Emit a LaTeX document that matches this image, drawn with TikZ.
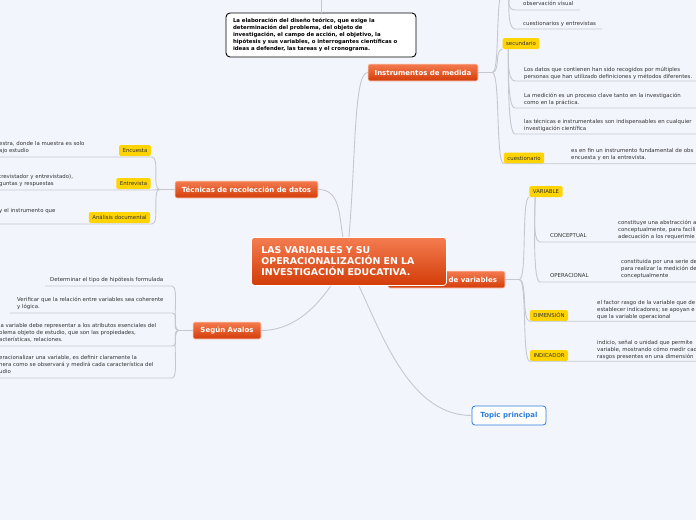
\documentclass[tikz,border=0pt]{standalone}
\usepackage{fontspec}
\setmainfont{DejaVu Sans}
\definecolor{Bgcol}{HTML}{F3F5FC}
\definecolor{Topcol}{HTML}{F47C50}
\definecolor{Botcol}{HTML}{D23C08}
\definecolor{Tagcol}{HTML}{FFD400}
\definecolor{Linkcol}{HTML}{C6C8D0}
\definecolor{Textcol}{HTML}{333333}
\definecolor{Bluecol}{HTML}{2C7BD8}
\usetikzlibrary{calc, positioning}
\tikzset{
    font=\fontsize{5.4}{7}\selectfont,
    central/.style={rounded corners=3pt, top color=Topcol, bottom color=Botcol, draw=white, line width=0.8pt,
        text=white, font=\fontsize{9.4}{11}\selectfont\bfseries, align=left, text width=175pt, inner xsep=10pt},
    maintopic/.style={rounded corners=2pt, top color=Topcol, bottom color=Botcol, draw=white!70!Topcol,
        line width=0.6pt, text=white, font=\fontsize{7}{9}\selectfont\bfseries, minimum height=17pt, inner xsep=6pt},
    topicbox/.style={rounded corners=3pt, fill=white, draw=Bluecol, line width=0.8pt, text=Bluecol,
        font=\fontsize{7}{9}\selectfont\bfseries, minimum height=19pt, minimum width=74pt},
    goalbox/.style={rounded corners=4pt, fill=white, draw=black, line width=0.9pt, font=\fontsize{5.4}{7.2}\selectfont\bfseries,
        align=left, text width=176pt, inner xsep=7pt, minimum height=44pt},
    tag/.style={rounded corners=1.5pt, fill=Tagcol, text=Textcol, minimum height=11pt, inner xsep=3.5pt, inner ysep=0pt},
    leaf/.style={text=Textcol, align=left, anchor=north west, inner sep=0pt},
    link/.style={draw=Linkcol, line width=0.9pt},
}

\begin{document}
\begin{tikzpicture}[x=1pt, y=1pt]
    \useasboundingbox (0,0) rectangle (696,-520);
    \fill[Bgcol] (0,0) rectangle (696,-520);
    \clip (0,0) rectangle (696,-520);

    % Main topics
    \node[maintopic, text width=101pt, align=right, inner xsep=8pt] (opvar) at (446.5,-279.5) {de variables};
    \node[central, anchor=north west, minimum height=48pt] (center) at (251,-237)
        {LAS VARIABLES Y SU\\OPERACIONALIZACIÓN EN LA\\INVESTIGACIÓN EDUCATIVA.};
    \node[maintopic, minimum width=110pt] (instr) at (423,-72.5) {Instrumentos de medida};
    \node[maintopic, minimum width=143pt] (tec) at (246.5,-189.5) {Técnicas de recolección de datos};
    \node[maintopic, minimum width=68pt] (seg) at (227,-330.5) {Según Avalos};
    \node[topicbox] (topic) at (509,-415.5) {Topic principal};
    \node[goalbox] (goal) at (321,-35) {La elaboración del diseño teórico, que exige la\\determinación del problema, del objeto de\\investigación, el campo de acción, el objetivo, la\\hipótesis y sus variables, o interrogantes científicas o\\ideas a defender, las tareas y el cronograma.};
    \coordinate (goaltop) at (321,5);
    \draw[link] (goal.north) -- (goaltop);

    % Links from the central topic
    \draw[link] (center.north) to[out=85, in=180, out distance=80pt, in distance=14pt] (instr.west);
    \draw[link] (tec.east) to[out=0, in=100, distance=22pt] ($(center.north)+(-6,0)$);
    \draw[link] (seg.east) to[out=0, in=235, distance=30pt] ($(center.south)+(-18,0)$);
    \draw[link] ($(center.south)+(10,0)$) to[out=-65, in=180, distance=60pt] (topic.west);

    % Instrumentos de medida
    \coordinate (ib) at ($(instr.east)+(14,0)$);
    \coordinate (prim) at (503,8);
    \coordinate (primfoot) at (509,8);
    \draw[link] (instr.east) -- (ib);
    \draw[link] (ib) to[out=0, in=180, distance=8pt] (prim);
    \node[tag] (sec) at (521,-43.5) {secundario};
    \node[tag] (cues) at (524,-158) {cuestionario};
    \draw[link] (ib) to[out=0, in=180, distance=8pt] (sec.south west);
    \draw[link] (ib) to[out=0, in=180, distance=8pt] (cues.south west) -- ++(200,0);

    \node[leaf] (obs) at (523,-1) {observación visual};
    \node[leaf] (cuent) at (523,-21) {cuestionarios y entrevistas};
    \coordinate (obsU) at (515,-10);
    \coordinate (cuentU) at (515,-29);
    \draw[link] (primfoot) to[out=-90, in=180, distance=8pt] (obsU) -- ++(65,0);
    \draw[link] (primfoot) to[out=-90, in=180, distance=8pt] (cuentU) -- ++(87,0);

    \coordinate (sb) at ($(sec.south west)+(6,0)$);
    \node[leaf] (datos) at (524,-66.5) {Los datos que contienen han sido recogidos por múltiples\\personas que han utilizado definiciones y métodos diferentes.};
    \node[leaf] (medic) at (524,-92.5) {La medición es un proceso clave tanto en la investigación\\como en la práctica.};
    \node[leaf] (tecin) at (524,-118.5) {las técnicas e instrumentales son indispensables en cualquier\\investigación científica};
    \coordinate (datosU) at (515,-81);
    \coordinate (medicU) at (515,-108);
    \coordinate (tecinU) at (515,-134);
    \foreach \u in {datosU, medicU, tecinU}
        \draw[link] (sb) to[out=-90, in=180, distance=8pt] (\u) -- ++(190,0);
    \node[leaf] (cuesd) at (571,-148.5) {es en fin un instrumento fundamental de obs\\encuesta y en la entrevista.};

    % Tecnicas de recoleccion de datos
    \coordinate (tb) at ($(tec.west)+(-15,0)$);
    \draw[link] (tec.west) -- (tb);
    \node[tag] (enc) at (135,-150.5) {Encuesta};
    \node[tag] (ent) at (133.5,-183.5) {Entrevista};
    \node[tag] (anal) at (119.5,-217.5) {Análisis documental};
    \coordinate (encU) at (152,-157);
    \coordinate (entU) at (152,-190);
    \coordinate (analU) at (152,-224);
    \foreach \u in {encU, entU, analU}
        \draw[link] (tb) to[out=180, in=0, distance=8pt] (\u) -- ++(-170,0);
    \node[leaf] (encd) at (-1,-141) {estra, donde la muestra es solo\\ajo estudio};
    \node[leaf] (entd) at (-1,-174) {trevistador y entrevistado),\\guntas y respuestas};
    \node[leaf] (anald) at (-1,-208) {y el instrumento que};

    % Segun Avalos
    \coordinate (ab) at ($(seg.west)+(-14,0)$);
    \draw[link] (seg.west) -- (ab);
    \node[leaf] (hip) at (50,-277) {Determinar el tipo de hipótesis formulada};
    \node[leaf] (verif) at (17,-297) {Verificar que la relación entre variables sea coherente\\y lógica.};
    \node[leaf] (atrib) at (-1,-323) {la variable debe representar a los atributos esenciales del\\blema objeto de estudio, que son las propiedades,\\acterísticas, relaciones.};
    \node[leaf] (defin) at (-1,-355) {eracionalizar una variable, es definir claramente la\\nera como se observará y medirá cada característica del\\udio};
    \coordinate (hipU) at (172,-286);
    \coordinate (verifU) at (172,-313);
    \coordinate (atribU) at (172,-346);
    \coordinate (definU) at (172,-378);
    \draw[link] (ab) to[out=180, in=0, distance=8pt] (hipU) -- ++(-127,0);
    \draw[link] (ab) to[out=180, in=0, distance=8pt] (verifU) -- ++(-162,0);
    \foreach \u in {atribU, definU}
        \draw[link] (ab) to[out=180, in=0, distance=8pt] (\u) -- ++(-180,0);

    % Operacionalizacion de variables
    \coordinate (vb) at ($(opvar.east)+(14,0)$);
    \draw[link] (opvar.east) -- (vb);
    \node[tag] (var) at (546,-191.5) {VARIABLE};
    \node[tag] (dim) at (549,-315.5) {DIMENSIÓN};
    \node[tag] (ind) at (549,-355.5) {INDICADOR};
    \draw[link] (vb) to[out=0, in=180, distance=8pt] (var.south west);
    \draw[link] (vb) to[out=0, in=180, distance=8pt] (dim.south west) -- ++(170,0);
    \draw[link] (vb) to[out=0, in=180, distance=8pt] (ind.south west) -- ++(170,0);

    \coordinate (vfoot) at ($(var.south west)+(6,0)$);
    \coordinate (concU) at (540,-242);
    \coordinate (operU) at (540,-282);
    \foreach \u in {concU, operU}
        \draw[link] (vfoot) to[out=-90, in=180, distance=8pt] (\u) -- ++(160,0);
    \node[leaf] (conc) at (550,-233) {CONCEPTUAL};
    \node[leaf] (oper) at (550,-273) {OPERACIONAL};
    \node[leaf] (concd) at (618,-220) {constituye una abstracción a\\conceptualmente, para facili\\adecuación a los requerimie};
    \node[leaf] (operd) at (621,-259) {constituida por una serie de\\para realizar la medición de\\conceptualmente};
    \node[leaf] (dimd) at (597,-300) {el factor rasgo de la variable que de\\establecer indicadores; se apoyan e\\que la variable operacional};
    \node[leaf] (indd) at (597,-340) {indicio, señal o unidad que permite\\variable, mostrando cómo medir cad\\rasgos presentes en una dimensión};
\end{tikzpicture}
\end{document}
